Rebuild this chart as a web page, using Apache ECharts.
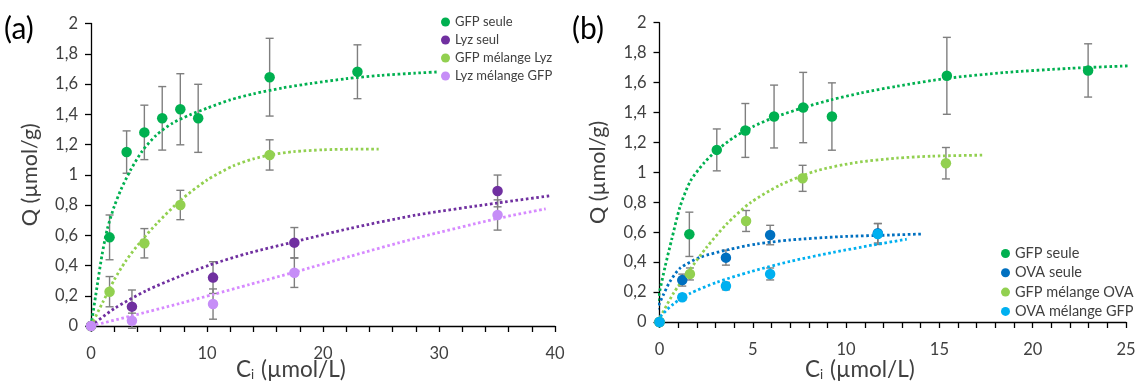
<!DOCTYPE html>
<html>
<head>
<meta charset="utf-8">
<script src="https://cdn.jsdelivr.net/npm/echarts@6/dist/echarts.min.js"></script>
<style>
html,body{margin:0;padding:0;background:#fff;}
#c{width:1138px;height:387px;}
</style>
</head>
<body>
<div id="c"></div>
<script>
// ---------- Panel (a) data ----------
const gfpX = [0, 1.6, 3.07, 4.6, 6.14, 7.7, 9.24, 15.4, 22.97];
const gfpY = [0, 0.586, 1.15, 1.28, 1.373, 1.433, 1.373, 1.645, 1.681];
const gfpErr = [0, 0.148, 0.14, 0.18, 0.21, 0.235, 0.225, 0.257, 0.178];

const lyzX = [0, 3.53, 10.52, 17.53, 35.05];
const lyzY = [0, 0.128, 0.32, 0.551, 0.893];
const lyzErr = [0, 0.11, 0.105, 0.1, 0.105];

const gfpMixLyzX = [0, 1.6, 4.6, 7.7, 15.4];
const gfpMixLyzY = [0, 0.227, 0.547, 0.8, 1.131];
const gfpMixLyzErr = [0, 0.1, 0.097, 0.097, 0.1];

const lyzMixGfpX = [0, 3.53, 10.52, 17.53, 35.05];
const lyzMixGfpY = [0, 0.035, 0.145, 0.352, 0.734];
const lyzMixGfpErr = [0, 0.05, 0.1, 0.097, 0.1];

// trend lines (a)
const fitGfpAX = [0, 0.4, 0.95, 1.4, 2, 2.6, 3.4, 4.4, 5.6, 7, 8.5, 10, 12, 14, 16.5, 19, 22, 25, 28, 30];
const fitGfpAY = [0, 0.2, 0.47, 0.64, 0.79, 0.905, 1.03, 1.155, 1.26, 1.34, 1.395, 1.44, 1.495, 1.535, 1.574, 1.604, 1.635, 1.657, 1.672, 1.68];
const fitGfpMixLyzX = [0, 1, 2, 3, 4.25, 5.7, 7.7, 10, 12.3, 14, 15.5, 17.5, 20, 22.5, 24.8];
const fitGfpMixLyzY = [0, 0.155, 0.305, 0.43, 0.555, 0.68, 0.83, 0.965, 1.06, 1.105, 1.132, 1.153, 1.165, 1.169, 1.17];
const fitLyzX = [0, 2, 4.8, 7.7, 10.3, 13.6, 17.5, 22.3, 28, 35, 39.7];
const fitLyzY = [0, 0.115, 0.235, 0.33, 0.405, 0.482, 0.556, 0.645, 0.733, 0.813, 0.862];
const fitLyzMixX = [0, 3.4, 7.7, 10.6, 13.7, 17.5, 22.3, 28, 35, 39.2];
const fitLyzMixY = [0, 0.065, 0.15, 0.21, 0.275, 0.355, 0.46, 0.58, 0.71, 0.775];

// ---------- Panel (b) data ----------
const ovaX = [0, 1.22, 3.56, 5.93, 11.7];
const ovaY = [0, 0.28, 0.43, 0.581, 0.593];
const ovaErr = [0, 0.04, 0.05, 0.065, 0.065];

const gfpMixOvaX = [0, 1.63, 4.64, 7.67, 15.35];
const gfpMixOvaY = [0, 0.321, 0.675, 0.96, 1.061];
const gfpMixOvaErr = [0, 0.04, 0.07, 0.087, 0.105];

const ovaMixGfpX = [0, 1.22, 3.56, 5.93, 11.7];
const ovaMixGfpY = [0, 0.165, 0.24, 0.321, 0.588];
const ovaMixGfpErr = [0, 0.02, 0.025, 0.04, 0.07];

// trend lines (b)
const fitGfpBX = [-0.35, -0.2, 0, 0.3, 0.65, 1.1, 1.65, 2.4, 3.1, 4, 5, 6.1, 7.7, 9.2, 10.8, 12.7, 15.4, 18.5, 22, 25.2];
const fitGfpBY = [-0.03, 0.08, 0.2, 0.37, 0.55, 0.77, 0.94, 1.065, 1.15, 1.235, 1.305, 1.365, 1.432, 1.485, 1.53, 1.575, 1.628, 1.667, 1.695, 1.712];
const fitGfpMixOvaX = [-0.1, 0.74, 1.63, 2.53, 3.6, 4.85, 6.46, 8.4, 10.5, 12.7, 14.6, 17.3];
const fitGfpMixOvaY = [0, 0.19, 0.35, 0.5, 0.655, 0.795, 0.915, 1.01, 1.065, 1.095, 1.108, 1.115];
const fitOvaX = [-0.4, -0.15, 0.2, 0.56, 1.1, 2.17, 3.6, 5.2, 7, 9.67, 12.35, 14.05];
const fitOvaY = [-0.02, 0.08, 0.18, 0.27, 0.359, 0.432, 0.481, 0.521, 0.548, 0.57, 0.581, 0.588];
const fitOvaMixX = [-0.33, 0.03, 0.74, 1.63, 3.06, 4.85, 7, 9.31, 11.46, 13.25];
const fitOvaMixY = [-0.015, 0.035, 0.12, 0.19, 0.265, 0.335, 0.405, 0.465, 0.515, 0.553];

// tick labels
const yTicks = [0, 0.2, 0.4, 0.6, 0.8, 1, 1.2, 1.4, 1.6, 1.8, 2];
const xLabelsA = [0, 10, 20, 30, 40];
const xLabelsB = [0, 5, 10, 15, 20, 25];

// colours
const C_GFP = '#00B050', C_LYZ = '#7030A0', C_GFPMIX = '#92D050', C_LYZMIX = '#C68DF7';
const C_OVA = '#0070C0', C_OVAMIX = '#00B0F0';
const FONT = 'Lato, "Open Sans", sans-serif';
const TXT = '#404040';

function zip(xs, ys, es) { return xs.map((x, i) => es ? [x, ys[i], es[i]] : [x, ys[i]]); }
function comma(v) { return String(Math.round(v * 10) / 10).replace('.', ','); }

function scatter(name, xs, ys, color, ai) {
  return { type: 'scatter', name, xAxisIndex: ai, yAxisIndex: ai, data: zip(xs, ys),
    symbol: 'circle', symbolSize: 10.5, itemStyle: { color, opacity: 1 }, z: 5 };
}
function errBars(name, xs, ys, es, ai) {
  return { type: 'custom', name: name + ' err', xAxisIndex: ai, yAxisIndex: ai, data: zip(xs, ys, es),
    encode: { x: 0, y: 1 }, z: 3, silent: true,
    renderItem: function (params, api) {
      const x = api.value(0), y = api.value(1), e = api.value(2);
      if (!e) return null;
      const t = api.coord([x, y + e]), b = api.coord([x, y - e]);
      const hw = 4, st = { stroke: '#7F7F7F', lineWidth: 1.4 };
      return { type: 'group', children: [
        { type: 'line', shape: { x1: t[0], y1: t[1], x2: b[0], y2: b[1] }, style: st },
        { type: 'line', shape: { x1: t[0] - hw, y1: t[1], x2: t[0] + hw, y2: t[1] }, style: st },
        { type: 'line', shape: { x1: b[0] - hw, y1: b[1], x2: b[0] + hw, y2: b[1] }, style: st }
      ] };
    } };
}
function fit(name, xs, ys, color, ai) {
  return { type: 'line', name: name + ' fit', xAxisIndex: ai, yAxisIndex: ai, data: zip(xs, ys),
    showSymbol: false, symbol: 'none', smooth: 0.25, clip: false, silent: true, z: 4,
    lineStyle: { color, width: 2.8, type: [2.6, 2.6], cap: 'butt' } };
}

function xAxis(ai, max, interval, labels) {
  return { type: 'value', gridIndex: ai, min: 0, max, interval,
    axisLine: { show: true, onZero: false, lineStyle: { color: '#000', width: 1.3 } },
    axisTick: { show: true, inside: false, length: 6, lineStyle: { color: '#000', width: 1.3 } },
    splitLine: { show: false },
    axisLabel: { margin: 19, color: TXT, fontFamily: FONT, fontSize: 16.5,
      formatter: v => labels.indexOf(Math.round(v * 1000) / 1000) >= 0 ? String(v) : '' }
  };
}
function yAxis(ai) {
  return { type: 'value', gridIndex: ai, min: 0, max: 2, interval: 0.2,
    axisLine: { show: true, onZero: false, lineStyle: { color: '#000', width: 1.3 } },
    axisTick: { show: true, inside: false, length: 6, lineStyle: { color: '#000', width: 1.3 } },
    splitLine: { show: false },
    axisLabel: { margin: 13, color: TXT, fontFamily: FONT, fontSize: 16.5,
      formatter: v => yTicks.indexOf(Math.round(v * 10) / 10) >= 0 ? comma(v) : '' },
    name: 'Q (µmol/g)', nameLocation: 'middle', nameGap: 50,
    nameTextStyle: { color: TXT, fontFamily: FONT, fontSize: 21.5 }
  };
}
const xTitleRich = {
  n: { fontSize: 22.5, fontFamily: FONT, fill: TXT, color: TXT, lineHeight: 26, verticalAlign: 'bottom' },
  s: { fontSize: 13, fontFamily: FONT, fill: TXT, color: TXT, lineHeight: 12, verticalAlign: 'bottom', padding: [0, 1, 0, 0] }
};
const X_TITLE = '{n|C}{s|i}{n| (µmol/L)}';

const chart = echarts.init(document.getElementById('c'), null, { renderer: 'canvas' });
const legendTextA = { color: TXT, fontFamily: FONT, fontSize: 13, lineHeight: 14 };
const legendTextB = { color: TXT, fontFamily: FONT, fontSize: 14.5, lineHeight: 14 };
chart.setOption({
  animation: false,
  backgroundColor: '#fff',
  textStyle: { fontFamily: FONT },
  grid: [
    { left: 91, top: 23.5, width: 464, height: 302.5, containLabel: false, outerBoundsMode: 'none' },
    { left: 659.5, top: 22.7, width: 466.5, height: 299.3, containLabel: false, outerBoundsMode: 'none' }
  ],
  xAxis: [xAxis(0, 40, 2, xLabelsA), xAxis(1, 25, 1, xLabelsB)],
  yAxis: [yAxis(0), yAxis(1)],
  graphic: [
    { type: 'text', left: 4, top: 14, style: { text: '(a)', fontSize: 30, fontFamily: FONT, fill: '#000' } },
    { type: 'text', left: 572, top: 14, style: { text: '(b)', fontSize: 30, fontFamily: FONT, fill: '#000' } },
    { type: 'text', left: 236, top: 358, style: { text: X_TITLE, fill: TXT, fontFamily: FONT, rich: xTitleRich } },
    { type: 'text', left: 805, top: 358, style: { text: X_TITLE, fill: TXT, fontFamily: FONT, rich: xTitleRich } }
  ],
  legend: [
    { orient: 'vertical', left: 441, top: 15, itemWidth: 9, itemHeight: 9, itemGap: 4, icon: 'circle',
      data: ['GFP seule', 'Lyz seul', 'GFP mélange Lyz', 'Lyz mélange GFP'], textStyle: legendTextA,
      padding: 0, selectedMode: false },
    { orient: 'vertical', left: 1001, top: 246, itemWidth: 9, itemHeight: 9, itemGap: 4.3, icon: 'circle',
      data: ['GFP seule', 'OVA seule', 'GFP mélange OVA', 'OVA mélange GFP'], textStyle: legendTextB,
      padding: 0, selectedMode: false }
  ],
  series: [
    // panel a
    errBars('GFP seule', gfpX, gfpY, gfpErr, 0),
    errBars('Lyz seul', lyzX, lyzY, lyzErr, 0),
    errBars('GFP mélange Lyz', gfpMixLyzX, gfpMixLyzY, gfpMixLyzErr, 0),
    errBars('Lyz mélange GFP', lyzMixGfpX, lyzMixGfpY, lyzMixGfpErr, 0),
    fit('a GFP', fitGfpAX, fitGfpAY, C_GFP, 0),
    fit('a Lyz', fitLyzX, fitLyzY, C_LYZ, 0),
    fit('a GFPmix', fitGfpMixLyzX, fitGfpMixLyzY, C_GFPMIX, 0),
    fit('a Lyzmix', fitLyzMixX, fitLyzMixY, '#D68AFF', 0),
    scatter('GFP seule', gfpX, gfpY, C_GFP, 0),
    scatter('Lyz seul', lyzX, lyzY, C_LYZ, 0),
    scatter('GFP mélange Lyz', gfpMixLyzX, gfpMixLyzY, C_GFPMIX, 0),
    scatter('Lyz mélange GFP', lyzMixGfpX, lyzMixGfpY, C_LYZMIX, 0),
    // panel b
    errBars('GFP seule', gfpX, gfpY, gfpErr, 1),
    errBars('OVA seule', ovaX, ovaY, ovaErr, 1),
    errBars('GFP mélange OVA', gfpMixOvaX, gfpMixOvaY, gfpMixOvaErr, 1),
    errBars('OVA mélange GFP', ovaMixGfpX, ovaMixGfpY, ovaMixGfpErr, 1),
    fit('b GFP', fitGfpBX, fitGfpBY, C_GFP, 1),
    fit('b OVA', fitOvaX, fitOvaY, C_OVA, 1),
    fit('b GFPmix', fitGfpMixOvaX, fitGfpMixOvaY, C_GFPMIX, 1),
    fit('b OVAmix', fitOvaMixX, fitOvaMixY, C_OVAMIX, 1),
    scatter('GFP seule', gfpX, gfpY, C_GFP, 1),
    scatter('OVA seule', ovaX, ovaY, C_OVA, 1),
    scatter('GFP mélange OVA', gfpMixOvaX, gfpMixOvaY, C_GFPMIX, 1),
    scatter('OVA mélange GFP', ovaMixGfpX, ovaMixGfpY, C_OVAMIX, 1)
  ]
});
</script>
</body>
</html>
